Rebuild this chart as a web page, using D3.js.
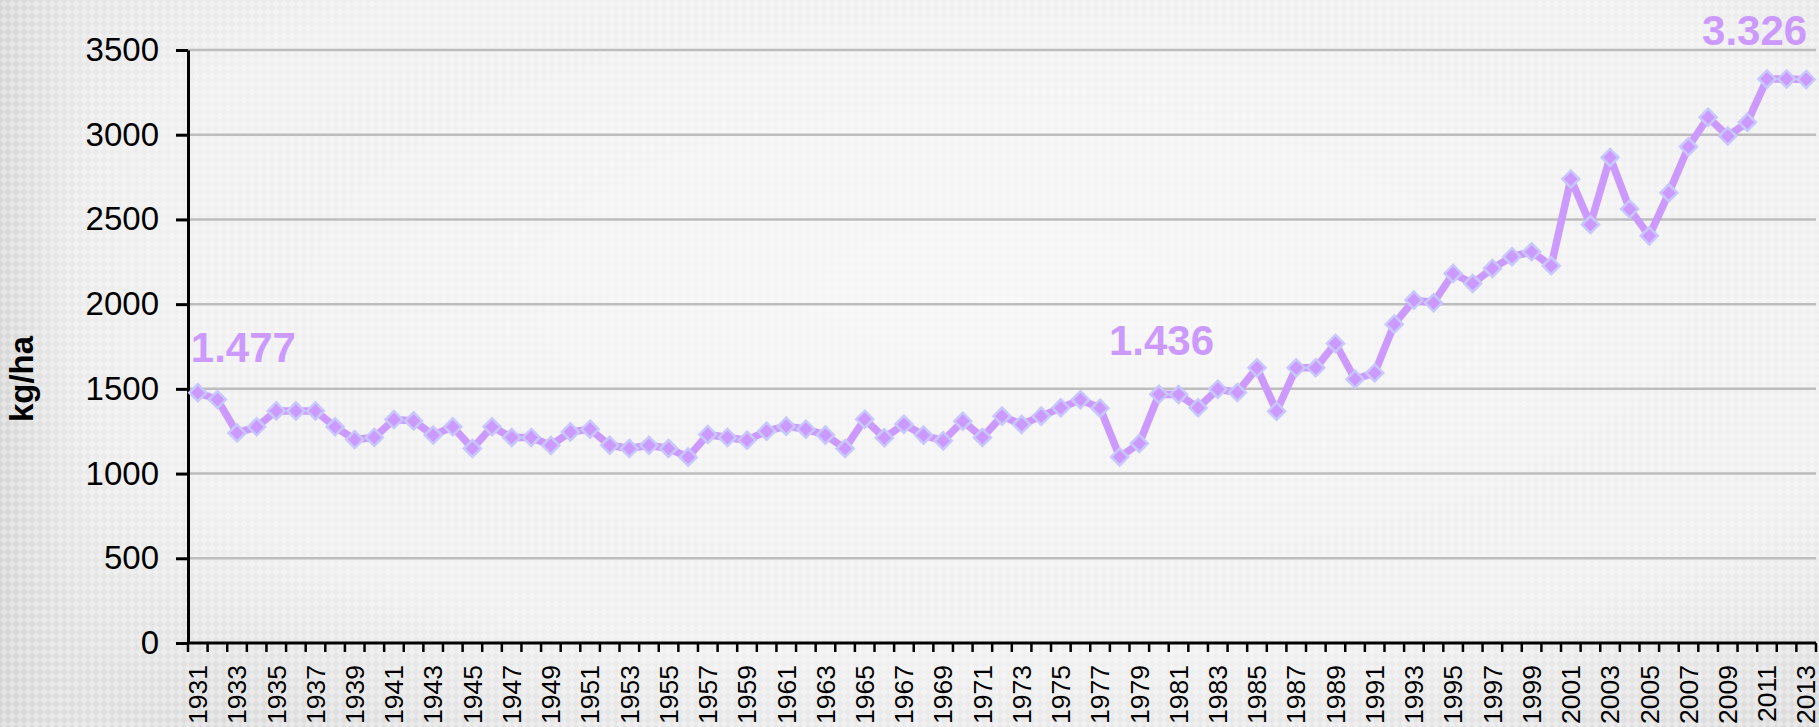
<!DOCTYPE html>
<html>
<head>
<meta charset="utf-8">
<script src="https://cdn.jsdelivr.net/npm/d3@7"></script>
<style>
  body { margin: 0; overflow: hidden; }
  svg { display: block; font-family: "Liberation Sans", Arial, sans-serif; }
</style>
</head>
<body>
<div id="chart"></div>
<script>
// years on the category axis
let years = d3.range(1931, 2014).map(String);

// yield, kg/ha
let yields = [
  1477, 1437, 1240, 1276, 1370, 1370, 1370, 1276, 1201, 1213,
  1319, 1311, 1227, 1276, 1148, 1276, 1213, 1213, 1166, 1246,
  1262, 1167, 1148, 1167, 1148, 1097, 1231, 1213, 1197, 1250,
  1280, 1262, 1227, 1148, 1321, 1211, 1291, 1227, 1193, 1309,
  1213, 1339, 1290, 1339, 1388, 1436, 1386, 1098, 1178, 1468,
  1467, 1388, 1498, 1479, 1624, 1368, 1624, 1624, 1768, 1557,
  1594, 1882, 2024, 2008, 2181, 2122, 2211, 2280, 2309, 2226,
  2738, 2470, 2866, 2561, 2403, 2657, 2929, 3103, 2992, 3073,
  3329, 3329, 3326
];

let yTicks = [0, 500, 1000, 1500, 2000, 2500, 3000, 3500];

// highlighted values written on the chart
let callouts = [
  { year: "1931", text: "1.477" },
  { year: "1976", text: "1.436" },
  { year: "2013", text: "3.326" }
];

let W = 1819, H = 727;
let margin = {top: 50, right: 3, bottom: 84, left: 188},
    width = W - margin.left - margin.right,
    height = H - margin.top - margin.bottom;

let lineColor = "#cc99ff";

let svg = d3.select("#chart").append("svg")
    .attr("width", W)
    .attr("height", H);

// background: soft gradient plus a faint diamond texture
let defs = svg.append("defs");
let grad = defs.append("radialGradient")
    .attr("id", "bg")
    .attr("cx", "55%").attr("cy", "40%").attr("r", "75%");
grad.append("stop").attr("offset", "0%").attr("stop-color", "#f6f6f6");
grad.append("stop").attr("offset", "70%").attr("stop-color", "#efefef");
grad.append("stop").attr("offset", "100%").attr("stop-color", "#dadada");

let side = defs.append("linearGradient")
    .attr("id", "side")
    .attr("x1", "0%").attr("x2", "100%");
side.append("stop").attr("offset", "0%").attr("stop-color", "#d4d4d4").attr("stop-opacity", 0.9);
side.append("stop").attr("offset", "5%").attr("stop-color", "#e6e6e6").attr("stop-opacity", 0.4);
side.append("stop").attr("offset", "12%").attr("stop-color", "#efefef").attr("stop-opacity", 0);

let pat = defs.append("pattern")
    .attr("id", "tex")
    .attr("width", 8).attr("height", 8)
    .attr("patternUnits", "userSpaceOnUse");
pat.append("path")
    .attr("d", "M4,0 L8,4 L4,8 L0,4 Z")
    .attr("fill", "#ffffff")
    .attr("opacity", 0.35);

svg.append("rect").attr("width", W).attr("height", H).attr("fill", "url(#bg)");
svg.append("rect").attr("width", W).attr("height", H).attr("fill", "url(#side)");
svg.append("rect").attr("width", W).attr("height", H).attr("fill", "url(#tex)");

let g = svg.append("g")
    .attr("transform", "translate(" + margin.left + "," + margin.top + ")");

// scales
let x = d3.scaleBand()
    .domain(years)
    .range([0, width]);

let y = d3.scaleLinear()
    .domain([0, 3500])
    .range([height, 0]);

// gridlines
g.append("g")
    .selectAll("line")
    .data(yTicks.filter(d => d > 0))
    .join("line")
    .attr("x1", 0)
    .attr("x2", width)
    .attr("y1", d => y(d))
    .attr("y2", d => y(d))
    .attr("stroke", "#bdbdbd")
    .attr("stroke-width", 2.5);

// y axis
let yAxis = g.append("g")
    .call(d3.axisLeft(y).tickValues(yTicks).tickFormat(d3.format("d"))
          .tickSize(12).tickPadding(17).tickSizeOuter(0));
yAxis.select(".domain").attr("stroke", "#000").attr("stroke-width", 3);
yAxis.selectAll(".tick line").attr("stroke", "#000").attr("stroke-width", 3);
yAxis.selectAll("text")
    .attr("font-size", 33)
    .attr("fill", "#000")
    .attr("font-family", "Liberation Sans, Arial, sans-serif");

// x axis: ticks between categories, labels on every other year
let xAxis = g.append("g")
    .attr("transform", "translate(0," + height + ")");
xAxis.append("line")
    .attr("x1", 0).attr("x2", width)
    .attr("stroke", "#000").attr("stroke-width", 3);
xAxis.selectAll(".sep")
    .data(years.concat(["end"]))
    .join("line")
    .attr("class", "sep")
    .attr("x1", (d, i) => i < years.length ? x(d) : width)
    .attr("x2", (d, i) => i < years.length ? x(d) : width)
    .attr("y1", 0)
    .attr("y2", 9)
    .attr("stroke", "#000")
    .attr("stroke-width", 2.5);
xAxis.selectAll(".lbl")
    .data(years.filter((d, i) => i % 2 == 0))
    .join("text")
    .attr("class", "lbl")
    .attr("transform", d => "translate(" + (x(d) + x.bandwidth() / 2) + ",22) rotate(-90)")
    .attr("text-anchor", "end")
    .attr("dy", "0.35em")
    .attr("font-size", 26.5)
    .attr("fill", "#000")
    .text(d => d);

// y axis title
svg.append("text")
    .attr("transform", "translate(33,379) rotate(-90)")
    .attr("text-anchor", "middle")
    .attr("font-size", 33)
    .attr("font-weight", "bold")
    .attr("fill", "#000")
    .text("kg/ha");

// series
let data = years.map((d, i) => ({year: d, value: yields[i]}));
let cx = d => x(d.year) + x.bandwidth() / 2;

g.append("path")
    .datum(data)
    .attr("fill", "none")
    .attr("stroke", lineColor)
    .attr("stroke-width", 7.5)
    .attr("stroke-linejoin", "round")
    .attr("d", d3.line().x(cx).y(d => y(d.value)));

g.selectAll(".pt")
    .data(data)
    .join("path")
    .attr("class", "pt")
    .attr("transform", d => "translate(" + cx(d) + "," + y(d.value) + ")")
    .attr("d", "M0,-8.5 L8.5,0 L0,8.5 L-8.5,0 Z")
    .attr("fill", lineColor)
    .attr("stroke", "#c8c8ff")
    .attr("stroke-width", 2.5);

// callout labels (baseline given in axis units)
let labelPos = {
  "1931": {dx: -7, y: 1660, anchor: "start"},
  "1976": {dx: 81, y: 1698, anchor: "middle"},
  "2013": {dx: 1, y: 3528, anchor: "end"}
};
g.selectAll(".callout")
    .data(callouts)
    .join("text")
    .attr("class", "callout")
    .attr("x", d => x(d.year) + x.bandwidth() / 2 + labelPos[d.year].dx)
    .attr("y", d => y(labelPos[d.year].y))
    .attr("text-anchor", d => labelPos[d.year].anchor)
    .attr("font-size", 42)
    .attr("font-weight", "bold")
    .attr("fill", lineColor)
    .text(d => d.text);
</script>
</body>
</html>
